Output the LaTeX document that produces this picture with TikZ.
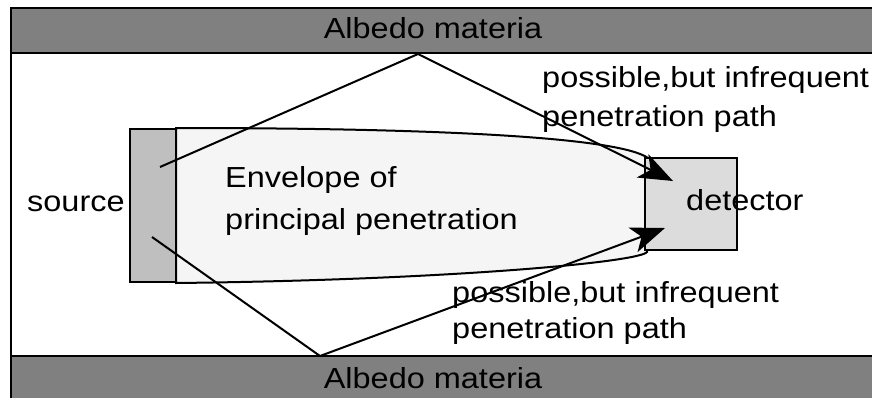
\documentclass[tikz,border=0pt]{standalone}
\usepackage{fontspec}
\setmainfont[FakeStretch=1.12]{Liberation Sans}
\usetikzlibrary{arrows.meta}
\definecolor{bandgray}{HTML}{808080}
\definecolor{srcgray}{HTML}{BFBFBF}
\definecolor{detgray}{HTML}{DCDCDC}
\definecolor{envgray}{HTML}{F5F5F5}
\tikzset{
  lbl/.style={inner sep=0pt, anchor=base west, font=\fontsize{29}{35}\selectfont},
  clbl/.style={inner sep=0pt, anchor=base, font=\fontsize{29}{35}\selectfont},
  ray/.style={line width=2pt, line join=miter},
  bigtip/.style={-{Stealth[length=34pt,width=26pt,inset=9pt]}},
  box/.style={draw=black, line width=2pt},
}
\begin{document}
\begin{tikzpicture}[x=1pt,y=-1pt]
\useasboundingbox (0,0) rectangle (872,397);
\begin{scope}
\clip (0,0) rectangle (872,397);
% bands and frame
\fill[white] (11,8) rectangle (890,410);
\draw[box, fill=bandgray] (11,8) rectangle (890,53);
\draw[box, fill=bandgray] (11,356) rectangle (890,410);
\draw[line width=2pt] (11,8) -- (11,410);
\end{scope}
% envelope
\draw[box, fill=envgray] (176,128) .. controls (450,128) and (620,138) .. (648,158)
  -- (647,252) .. controls (640,262) and (450,280) .. (176,283) -- cycle;
% source and detector
\node[box, fill=srcgray, minimum width=46pt, minimum height=153pt, inner sep=0pt] (src) at (153,205.5) {};
\node[box, fill=detgray, minimum width=92pt, minimum height=92pt, inner sep=0pt] (det) at (691,204) {};
% ray coordinates
\coordinate (s1) at (160,167);
\coordinate (r1) at (418,54);
\coordinate (t1) at (673,181);
\coordinate (s2) at (152,237);
\coordinate (r2) at (320,356);
\coordinate (t2) at (665,228);
\draw[ray, bigtip] (s1) -- (r1) -- (t1);
\draw[ray, bigtip] (s2) -- (r2) -- (t2);
% texts
\node[clbl] (top) at (433,38) {Albedo materia};
\node[clbl] (bot) at (433,388) {Albedo materia};
\node[lbl] (srct) at (27,211) {source};
\node[lbl] (dett) at (686,210) {detector};
\node[lbl] (env1) at (225,187) {Envelope of};
\node[lbl] (env2) at (225,229) {principal penetration};
\node[lbl] (pa1) at (542,87) {possible,but infrequent};
\node[lbl] (pa2) at (542,126) {penetration path};
\node[lbl] (pb1) at (452,302) {possible,but infrequent};
\node[lbl] (pb2) at (452,338) {penetration path};
\end{tikzpicture}
\end{document}
